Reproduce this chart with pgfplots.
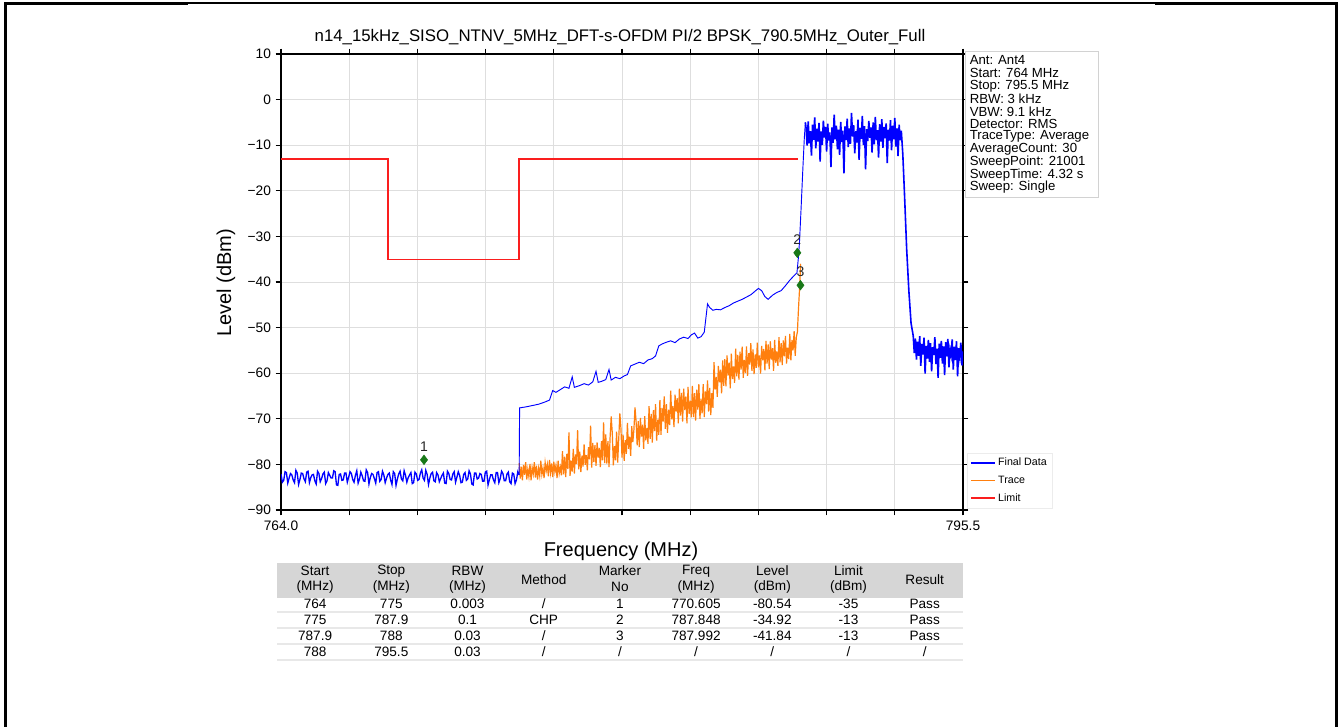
\documentclass[border=0pt]{standalone}
\usepackage{fontspec}
\setmainfont{Liberation Sans}
\usepackage{pgfplots}
\pgfplotsset{compat=1.18}

\definecolor{fdblue}{RGB}{0,0,255}
\definecolor{trorange}{RGB}{255,127,14}
\definecolor{limred}{RGB}{250,30,30}
\definecolor{mkgreen}{RGB}{24,120,24}
\definecolor{hdrgray}{RGB}{214,214,214}
\definecolor{gridgray}{RGB}{222,222,222}

\begin{document}
\begin{tikzpicture}
\begin{axis}[
  at={(210.75pt,-382.5pt)}, anchor=south west,
  scale only axis, width=511.5pt, height=342pt,
  xmin=764, xmax=795.5, ymin=-90, ymax=10,
  xtick={764,767.15,770.3,773.45,776.6,779.75,782.9,786.05,789.2,792.35,795.5},
  xticklabels={764.0,,,,,,,,,,795.5},
  ytick={-90,-80,-70,-60,-50,-40,-30,-20,-10,0,10},
  yticklabels={−90,−80,−70,−60,−50,−40,−30,−20,−10,0,10},
  tick align=outside, major tick length=4pt,
  tick style={black, line width=0.8pt},
  grid=major, major grid style={gridgray, line width=0.7pt},
  axis line style={black, line width=1pt},
  tick label style={font=\fontsize{10.3}{12}\selectfont},
  xticklabel style={yshift=-1pt},
  legend cell align=left,
  legend style={at={(1.006,0.003)}, anchor=south west, draw=gray!15,
    font=\fontsize{8}{9}\selectfont, row sep=2pt, inner sep=2pt},
  legend image code/.code={\draw[#1, line width=1.1pt] (0pt,0pt) -- (18pt,0pt);},
]
% Trace (beneath the final data)
\addplot[trorange, line width=0.9pt, forget plot] table {
775.00 -79.7
775.05 -83.1
775.10 -80.5
775.15 -83.5
775.20 -80.1
775.25 -82.3
775.30 -79.5
775.35 -83.3
775.40 -81.1
775.45 -82.7
775.50 -79.9
775.55 -83.5
775.60 -80.7
775.65 -82.1
775.70 -79.5
775.75 -82.9
775.80 -80.3
775.85 -83.3
775.90 -80.9
775.95 -82.5
776.00 -79.2
776.05 -82.2
776.10 -80.8
776.15 -83.0
776.20 -79.6
776.25 -81.4
776.30 -80.0
776.35 -82.6
776.40 -79.0
776.45 -81.8
776.50 -79.8
776.55 -82.8
776.60 -79.4
776.65 -81.6
776.70 -80.2
776.75 -83.0
776.80 -79.2
776.85 -82.0
776.90 -80.6
776.95 -82.4
777.00 -77.1
777.05 -82.2
777.10 -78.3
777.15 -82.8
777.20 -77.7
777.25 -81.0
777.30 -73.0
777.35 -82.5
777.40 -79.2
777.45 -81.6
777.50 -76.6
777.55 -82.0
777.60 -77.8
777.65 -79.9
777.70 -72.5
777.75 -81.1
777.80 -77.2
777.85 -81.7
777.90 -78.1
777.95 -80.5
778.00 -75.6
778.05 -80.1
778.10 -78.0
778.15 -81.3
778.20 -76.2
778.25 -78.9
778.30 -71.5
778.35 -80.7
778.40 -75.3
778.45 -79.5
778.50 -75.8
778.55 -80.3
778.60 -75.2
778.65 -78.5
778.70 -76.4
778.75 -80.6
778.80 -74.9
778.85 -79.1
778.90 -70.8
778.95 -79.7
779.00 -73.4
779.05 -79.8
779.10 -74.9
779.15 -80.6
779.20 -74.1
779.25 -69.5
779.30 -73.0
779.35 -80.2
779.40 -76.0
779.45 -79.1
779.50 -72.8
779.55 -79.6
779.60 -74.3
779.65 -68.8
779.70 -72.0
779.75 -78.5
779.80 -73.5
779.85 -79.2
779.90 -74.7
779.95 -77.7
780.00 -70.9
780.05 -76.6
780.10 -73.9
780.15 -78.1
780.20 -71.6
780.25 -75.1
780.30 -72.4
780.35 -67.5
780.40 -70.5
780.45 -75.8
780.50 -70.5
780.55 -76.2
780.60 -69.8
780.65 -73.9
780.70 -71.3
780.75 -76.6
780.80 -69.4
780.85 -74.7
780.90 -72.0
780.95 -75.5
781.00 -67.2
781.05 -74.4
781.10 -68.9
781.15 -75.2
781.20 -68.1
781.25 -72.7
781.30 -66.8
781.35 -74.8
781.40 -70.2
781.45 -73.5
781.50 -65.9
781.55 -73.5
781.60 -67.6
781.65 -70.6
781.70 -65.1
781.75 -72.2
781.80 -66.8
781.85 -73.1
781.90 -68.0
781.95 -71.4
782.00 -63.8
782.05 -70.1
782.10 -67.2
782.15 -71.8
782.20 -64.7
782.25 -68.4
782.30 -65.5
782.35 -71.0
782.40 -63.4
782.45 -69.3
782.50 -64.3
782.55 -70.6
782.60 -63.4
782.65 -68.1
782.70 -65.1
782.75 -71.0
782.80 -63.0
782.85 -68.9
782.90 -66.0
782.95 -69.7
783.00 -62.8
783.05 -69.6
783.10 -64.4
783.15 -70.4
783.20 -63.6
783.25 -68.0
783.30 -62.4
783.35 -70.0
783.40 -65.6
783.45 -68.8
783.50 -62.4
783.55 -69.6
783.60 -64.0
783.65 -66.8
783.70 -61.6
783.75 -68.4
783.80 -63.2
783.85 -69.2
783.90 -64.4
783.95 -67.6
784.00 -57.6
784.05 -63.6
784.10 -60.8
784.15 -65.2
784.20 -58.4
784.25 -62.0
784.30 -59.2
784.35 -64.4
784.40 -57.2
784.45 -62.8
784.50 -56.9
784.55 -62.9
784.60 -56.1
784.65 -60.5
784.70 -57.7
784.75 -63.3
784.80 -55.7
784.85 -61.3
784.90 -58.5
784.95 -62.1
785.00 -54.6
785.05 -60.7
785.10 -56.0
785.15 -61.4
785.20 -55.3
785.25 -59.2
785.30 -54.2
785.35 -61.0
785.40 -57.1
785.45 -60.0
785.50 -54.1
785.55 -60.6
785.60 -55.6
785.65 -58.1
785.70 -53.4
785.75 -59.5
785.80 -54.8
785.85 -60.2
785.90 -55.9
785.95 -58.8
786.00 -53.3
786.05 -58.7
786.10 -56.1
786.15 -60.1
786.20 -54.0
786.25 -57.2
786.30 -54.7
786.35 -59.4
786.40 -52.9
786.45 -57.9
786.50 -53.7
786.55 -59.1
786.60 -53.0
786.65 -57.0
786.70 -54.5
786.75 -59.5
786.80 -52.7
786.85 -57.7
786.90 -55.2
786.95 -58.4
787.00 -52.1
787.05 -57.6
787.10 -53.4
787.15 -58.2
787.20 -52.8
787.25 -56.3
787.30 -51.8
787.35 -57.9
787.40 -54.4
787.45 -56.9
787.50 -51.4
787.55 -57.2
787.60 -52.7
787.65 -55.0
787.70 -50.8
787.75 -56.2
787.80 -52.1
787.85 -51.0
787.90 -46.0
787.95 -41.5
788.00 -36.0
};
% Final Data: noise floor below 775 MHz
\addplot[fdblue, line width=1pt, forget plot] table {
764.0000 -82.1
764.0625 -83.9
764.1250 -83.5
764.1875 -81.6
764.2500 -81.8
764.3125 -84.1
764.3750 -83.0
764.4375 -82.0
764.5000 -82.3
764.5625 -83.4
764.6250 -84.0
764.6875 -81.3
764.7500 -81.9
764.8125 -84.4
764.8750 -83.3
764.9375 -81.9
765.0000 -82.0
765.0625 -83.2
765.1250 -83.8
765.1875 -81.7
765.2500 -81.5
765.3125 -84.0
765.3750 -82.9
765.4375 -82.3
765.5000 -82.2
765.5625 -83.6
765.6250 -84.3
765.6875 -81.5
765.7500 -82.0
765.8125 -83.8
765.8750 -83.1
765.9375 -82.1
766.0000 -81.7
766.0625 -84.2
766.1250 -83.6
766.1875 -81.8
766.2500 -82.4
766.3125 -83.0
766.3750 -83.0
766.4375 -81.4
766.5000 -81.6
766.5625 -84.5
766.6250 -84.6
766.6875 -82.2
766.7500 -82.1
766.8125 -83.5
766.8750 -83.4
766.9375 -81.9
767.0000 -81.9
767.0625 -83.9
767.1250 -82.8
767.1875 -81.6
767.2500 -82.0
767.3125 -83.3
767.3750 -83.9
767.4375 -82.4
767.5000 -81.4
767.5625 -84.1
767.6250 -83.2
767.6875 -81.7
767.7500 -82.5
767.8125 -83.6
767.8750 -83.7
767.9375 -81.2
768.0000 -81.8
768.0625 -84.3
768.1250 -82.9
768.1875 -82.0
768.2500 -82.2
768.3125 -83.1
768.3750 -84.1
768.4375 -81.8
768.5000 -81.6
768.5625 -83.7
768.6250 -83.3
768.6875 -81.5
768.7500 -82.3
768.8125 -84.0
768.8750 -83.0
768.9375 -82.2
769.0000 -81.9
769.0625 -83.4
769.1250 -84.4
769.1875 -81.6
769.2500 -82.0
769.3125 -84.6
769.3750 -83.2
769.4375 -82.1
769.5000 -81.5
769.5625 -83.2
769.6250 -83.6
769.6875 -81.4
769.7500 -82.4
769.8125 -83.9
769.8750 -82.9
769.9375 -82.3
770.0000 -81.8
770.0625 -84.2
770.1250 -84.0
770.1875 -81.7
770.2500 -82.1
770.3125 -83.5
770.3750 -83.3
770.4375 -81.9
770.5000 -81.2
770.5625 -83.0
770.6250 -83.5
770.6875 -81.3
770.7500 -82.2
770.8125 -84.4
770.8750 -83.0
770.9375 -82.0
771.0000 -81.7
771.0625 -83.6
771.1250 -83.8
771.1875 -81.8
771.2500 -82.3
771.3125 -83.8
771.3750 -83.1
771.4375 -82.4
771.5000 -81.9
771.5625 -84.1
771.6250 -84.2
771.6875 -81.5
771.7500 -82.0
771.8125 -83.3
771.8750 -83.4
771.9375 -82.1
772.0000 -81.6
772.0625 -83.9
772.1250 -82.8
772.1875 -81.6
772.2500 -82.4
772.3125 -84.0
772.3750 -83.9
772.4375 -82.2
772.5000 -81.8
772.5625 -83.5
772.6250 -83.2
772.6875 -81.4
772.7500 -82.1
772.8125 -84.3
772.8750 -84.5
772.9375 -81.9
773.0000 -81.9
773.0625 -83.2
773.1250 -83.0
773.1875 -82.0
773.2500 -82.2
773.3125 -83.7
773.3750 -83.7
773.4375 -81.7
773.5000 -81.5
773.5625 -84.5
773.6250 -83.3
773.6875 -82.3
773.7500 -82.3
773.8125 -83.4
773.8750 -84.0
773.9375 -81.8
774.0000 -81.8
774.0625 -84.0
774.1250 -83.1
774.1875 -81.5
774.2500 -82.0
774.3125 -83.6
774.3750 -83.6
774.4375 -82.1
774.5000 -81.7
774.5625 -83.8
774.6250 -84.2
774.6875 -81.9
774.7500 -82.1
774.8125 -84.2
774.8750 -83.4
774.9375 -81.6
775.0000 -82.3
};
% Final Data: channel-power region up to the carrier edge
\addplot[fdblue, line width=0.7pt] table {
775.00 -82.3
775.02 -67.6
775.3 -67.4
775.6 -67.1
775.9 -66.8
776.2 -66.3
776.4 -65.9
776.55 -63.8
776.7 -64.2
776.9 -63.6
777.1 -63.0
777.3 -63.3
777.45 -60.8
777.55 -63.1
777.8 -62.7
778.0 -62.3
778.2 -62.6
778.4 -61.9
778.55 -59.6
778.65 -62.0
778.8 -61.8
779.0 -61.4
779.15 -59.2
779.25 -61.5
779.45 -60.9
779.65 -61.2
779.85 -60.6
780.0 -60.3
780.15 -58.4
780.35 -58.0
780.55 -57.6
780.75 -57.9
780.95 -57.1
781.15 -56.8
781.3 -56.2
781.45 -54.0
781.6 -53.6
781.8 -53.2
782.0 -52.9
782.2 -53.3
782.4 -52.5
782.6 -52.1
782.8 -52.4
782.95 -51.6
783.1 -51.2
783.25 -52.3
783.4 -52.0
783.55 -51.0
783.7 -44.8
783.8 -45.6
783.95 -46.2
784.1 -46.0
784.3 -46.1
784.5 -45.6
784.7 -45.2
784.9 -44.6
785.1 -44.2
785.3 -43.8
785.5 -43.3
785.7 -42.8
785.9 -42.0
786.05 -41.4
786.2 -41.9
786.35 -43.2
786.5 -43.8
786.7 -42.9
786.9 -42.3
787.1 -41.9
787.3 -40.8
787.5 -39.6
787.7 -38.6
787.83 -38.0
787.9 -34.5
787.95 -31.0
788.02 -24.0
788.1 -15.5
788.17 -8.5
788.22 -5.0
};
\addlegendentry{Final Data}
% Final Data: carrier and upper side
\addplot[fdblue, line width=1.2pt, forget plot] table {
788.22 -5.0
788.25 -6.2
788.30 -10.1
788.35 -4.8
788.40 -9.6
788.45 -6.9
788.50 -12.3
788.55 -5.5
788.60 -8.8
788.65 -3.9
788.70 -10.7
788.75 -6.4
788.80 -9.2
788.85 -5.1
788.90 -13.6
788.95 -7.0
789.00 -9.9
789.05 -4.6
789.10 -8.3
789.15 -6.0
789.20 -11.4
789.25 -5.3
789.30 -9.0
789.35 -7.2
789.40 -14.8
789.45 -6.1
789.50 -9.5
789.55 -3.3
789.60 -8.7
789.65 -5.7
789.70 -10.9
789.75 -6.6
789.80 -12.1
789.85 -4.9
789.90 -9.3
789.95 -6.8
790.00 -16.2
790.05 -5.9
790.10 -8.9
790.15 -4.2
790.20 -10.4
790.25 -6.3
790.30 -9.7
790.35 -2.9
790.40 -8.1
790.45 -5.6
790.50 -11.8
790.55 -6.9
790.60 -9.4
790.65 -4.4
790.70 -13.2
790.75 -6.2
790.80 -8.6
790.85 -3.6
790.90 -10.0
790.95 -5.8
791.00 -15.3
791.05 -6.5
791.10 -9.1
791.15 -4.7
791.20 -8.4
791.25 -6.1
791.30 -11.6
791.35 -5.0
791.40 -9.8
791.45 -3.8
791.50 -8.9
791.55 -6.7
791.60 -12.7
791.65 -5.4
791.70 -9.2
791.75 -4.3
791.80 -10.6
791.85 -6.0
791.90 -8.5
791.95 -5.2
792.00 -13.9
792.05 -6.6
792.10 -9.0
792.15 -4.5
792.20 -11.1
792.25 -5.7
792.30 -8.7
792.35 -4.0
792.40 -10.3
792.45 -6.3
792.50 -12.4
792.55 -5.5
792.60 -8.9
792.65 -6.8
792.72 -12.0
792.80 -21.0
792.90 -33.0
793.00 -42.0
793.10 -49.0
793.20 -51.8
793.25 -55.6
793.30 -52.4
793.35 -57.0
793.40 -53.1
793.45 -56.2
793.50 -51.9
793.55 -58.4
793.60 -53.6
793.65 -55.9
793.70 -52.2
793.75 -60.1
793.80 -54.0
793.85 -56.8
793.90 -52.7
793.95 -57.5
794.00 -53.4
794.05 -59.6
794.10 -54.3
794.15 -56.0
794.20 -52.1
794.25 -58.0
794.30 -54.6
794.35 -61.0
794.40 -53.5
794.45 -56.6
794.50 -52.9
794.55 -57.9
794.60 -54.1
794.65 -60.4
794.70 -53.2
794.75 -56.3
794.80 -52.5
794.85 -58.7
794.90 -54.8
794.95 -56.1
795.00 -52.6
795.05 -59.2
795.10 -54.2
795.15 -57.1
795.20 -53.0
795.25 -60.7
795.30 -54.5
795.35 -56.4
795.40 -53.3
795.45 -58.3
795.50 -55.2
};
\addlegendimage{trorange}
\addlegendentry{Trace}
% Limit
\addplot[limred, line width=1pt] table {
764.0 -13
768.94 -13
768.94 -35
775.0 -35
775.0 -13
787.9 -13
};
\addlegendentry{Limit}
% markers
\addplot[only marks, mark=diamond*, mark size=3.6pt, color=mkgreen, forget plot] coordinates {
(770.605,-79.0) (787.848,-33.6) (787.992,-40.7)
};
\node[above=3pt, font=\fontsize{10.5}{12}\selectfont, text=black!85] at (axis cs:770.605,-79.0) {1};
\node[above=3pt, font=\fontsize{10.5}{12}\selectfont, text=black!85] at (axis cs:787.848,-33.6) {2};
\node[above=3pt, font=\fontsize{10.5}{12}\selectfont, text=black!85] at (axis cs:787.992,-40.7) {3};
\end{axis}

\begin{scope}[x=0.75pt, y=-0.75pt]
% page frame
\draw[line width=1.9pt] (5.5,727) -- (5.5,3.5) -- (188,3.5);
\draw[line width=0.8pt] (188,3) -- (1155,3);
\draw[line width=1.9pt] (1155,3.5) -- (1336.5,3.5) -- (1336.5,727);
% title and axis labels
\node[font=\fontsize{12.6}{14}\selectfont] at (620,37) {n14\_15kHz\_SISO\_NTNV\_5MHz\_DFT-s-OFDM PI/2 BPSK\_790.5MHz\_Outer\_Full};
\node[rotate=90, font=\fontsize{15}{17}\selectfont] at (226,283) {Level (dBm)};
\node[font=\fontsize{15}{17}\selectfont] at (621,551) {Frequency (MHz)};
% settings box
\draw[gray!35, fill=white] (965,51) rectangle (1098,197);
\foreach \t [count=\i from 0] in {Ant: Ant4, Start: 764 MHz, Stop: 795.5 MHz, RBW: 3 kHz, VBW: 9.1 kHz, Detector: RMS, TraceType: Average, AverageCount: 30, SweepPoint: 21001, SweepTime: 4.32 s, Sweep: Single}
  \node[anchor=west, inner sep=0pt, font=\fontsize{9.9}{10}\selectfont] at (969.5,{60.5+12.7*\i}) {\t};
% result table
\fill[hdrgray] (277,563) rectangle (963,598);
\foreach \yy in {612,628,644,660}
  \draw[gray!18, line width=1.5pt] (277,\yy) -- (963,\yy);
\begin{scope}[every node/.style={font=\fontsize{10.2}{11}\selectfont, inner sep=0pt}]
\foreach \c/\a/\k in {Start/(MHz)/0, Stop/(MHz)/1, RBW/(MHz)/2, Marker/No/4, Freq/(MHz)/5, Level/(dBm)/6, Limit/(dBm)/7}{
  \node at ({315.1+76.2*\k},571) {\c};
  \node at ({315.1+76.2*\k},587) {\a};
}
\node at ({315.1+76.2*3},580) {Method};
\node at ({315.1+76.2*8},580) {Result};
\foreach \r/\cells in {0/{764,775,0.003,/,1,770.605,-80.54,-35,Pass},
                       1/{775,787.9,0.1,CHP,2,787.848,-34.92,-13,Pass},
                       2/{787.9,788,0.03,/,3,787.992,-41.84,-13,Pass},
                       3/{788,795.5,0.03,/,/,/,/,/,/}}{
  \foreach \v [count=\i from 0] in \cells
    \node at ({315.1+76.2*\i},{604+16*\r}) {\v};
}
\end{scope}
\pgfresetboundingbox
\path[use as bounding box] (0,0) rectangle (1338,727);
\end{scope}
\end{tikzpicture}
\end{document}
